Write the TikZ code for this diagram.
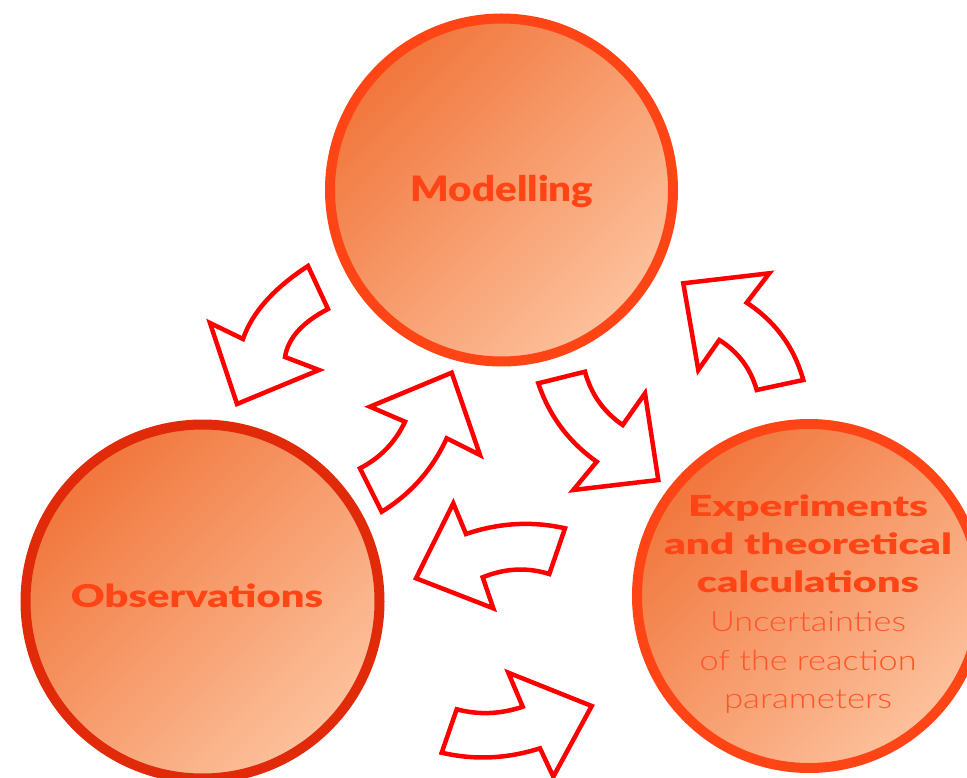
\documentclass[tikz,border=0pt]{standalone}
\usepackage{graphicx}
\usepackage{fontspec}
\newfontfamily\heavyfont{Lato Black}
\newfontfamily\lightfont{Lato Light}
\definecolor{ringred}{HTML}{FF4515}
\definecolor{ringdark}{HTML}{E02A0A}
\definecolor{discA}{HTML}{F1763C}
\definecolor{discB}{HTML}{FDC19C}
\definecolor{arrowred}{HTML}{FF0000}
\definecolor{labelred}{HTML}{FF4515}
\definecolor{notered}{HTML}{FF5528}
% set a line to a given width, keeping its height
\newcommand\fitw[2]{\resizebox{#1}{\height}{#2}}

\begin{document}
\begin{tikzpicture}[x=1pt,y=-1pt,
  disc/.style={circle, inner sep=0pt, outer sep=0pt, line width=10pt,
    top color=discA, bottom color=discB, shading angle=45,
    minimum size=#1},
  blockarrow/.style={draw=arrowred, fill=white, line width=4.5pt, line join=miter},
  headline/.style={text=labelred, inner sep=0pt, anchor=base,
    font=\heavyfont\fontsize{35}{40}\selectfont},
  obsline/.style={text=labelred, inner sep=0pt, anchor=base,
    font=\heavyfont\fontsize{31.5}{36}\selectfont},
  subhead/.style={text=labelred, inner sep=0pt, anchor=base,
    font=\heavyfont\fontsize{29}{34}\selectfont},
  note/.style={text=notered, inner sep=0pt, anchor=base,
    font=\lightfont\fontsize{28}{34}\selectfont}]

\useasboundingbox (0,0) rectangle (967,778);

% curved block arrows around the cycle
\draw[blockarrow] (237,404) -- (210,323) -- (243,339)
  .. controls (252,312.7) and (273.7,288.3) .. (308,266) -- (328,309)
  .. controls (302.3,322.3) and (288,338.3) .. (285,357) -- (319,370) -- cycle;
\draw[blockarrow] (451.7,372.7) -- (480,455) -- (446.7,438.3)
  .. controls (432.5,469.4) and (410.8,493.9) .. (381.7,511.7) -- (360,468.3)
  .. controls (380.3,457.8) and (395.3,442.3) .. (405,421.7) -- (370,406.7) -- cycle;
\draw[blockarrow] (538.3,383.3) -- (585,371.7)
  .. controls (591,394.1) and (603.6,411.9) .. (622.7,425) -- (645,393.3) -- (658.3,480)
  -- (573.3,490) -- (596.7,461.7)
  .. controls (568.7,442) and (549.2,415.8) .. (538.3,383.3) -- cycle;
\draw[blockarrow] (683.3,283.3) -- (769.3,273.3) -- (746.7,302.7)
  .. controls (775.2,321.4) and (794.1,347.1) .. (803.3,380) -- (756.7,390)
  .. controls (750.6,368.5) and (738.2,351.9) .. (719.3,340) -- (698.3,370) -- cycle;
\draw[blockarrow] (453.3,503.3) -- (466,534)
  .. controls (499,522.8) and (532,520.9) .. (565,528.3) -- (549.3,574)
  .. controls (527.1,567.1) and (504.9,568.2) .. (482.7,577.3) -- (493.3,608.3) -- (416,578.3) -- cycle;
\draw[blockarrow] (508.3,672.7) -- (591.7,706) -- (553.3,776.7) -- (540,748.3)
  .. controls (507.2,758.8) and (474.4,760.3) .. (441.7,752.7) -- (456.7,709.3)
  .. controls (478.7,715.1) and (500.7,714.2) .. (522.7,706.7) -- cycle;

% the three discs
\node[disc=343, draw=ringred] (model) at (501.5,190) {};
\node[disc=354, draw=ringdark] (obs) at (202.5,601.5) {};
\node[disc=344, draw=ringred] (expt) at (809,596) {};

% labels
\node[headline] (modlabel) at (502,201.7) {\fitw{183pt}{Modelling}};
\node[obsline] (obslabel) at (197,607) {\fitw{252pt}{Observations}};
\node[subhead] (exptA) at (808,516.7) {\fitw{240pt}{Experiments}};
\node[subhead] (exptB) at (808,554) {\fitw{288pt}{and theoretical}};
\node[subhead] (exptC) at (808,592.7) {\fitw{222pt}{calculations}};
\node[note] (noteA) at (808,631.7) {\fitw{196pt}{Uncertainties}};
\node[note] (noteB) at (808,670) {\fitw{217pt}{of the reaction}};
\node[note] (noteC) at (808,708) {\fitw{168pt}{parameters}};
\end{tikzpicture}
\end{document}
